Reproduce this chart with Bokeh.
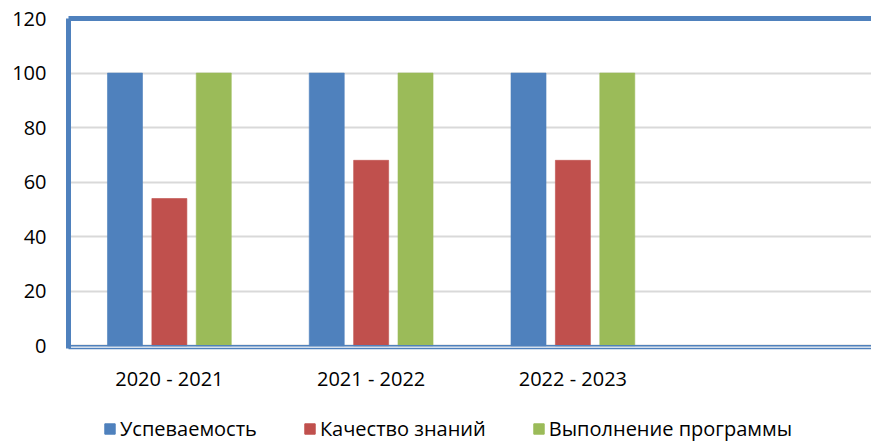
from bokeh.plotting import figure
from bokeh.layouts import column
from bokeh.models import (Range1d, FixedTicker, LinearAxis, Span, Legend,
                          LegendItem, ColumnDataSource)
from bokeh.embed import file_html
from bokeh.resources import INLINE

years = ["2020 - 2021", "2021 - 2022", "2022 - 2023"]
uspevaemost = [100, 100, 100]
kachestvo = [54, 68, 68]
vypolnenie = [100, 100, 100]
series_names = ["Успеваемость", "Качество знаний", "Выполнение программы"]
colors = ["#4f81bd", "#c0504d", "#9bbb59"]
y_ticks = [0, 20, 40, 60, 80, 100, 120]

FONT = "Open Sans"
BLUE = "#4f81bd"

centers = [i + 0.5 for i in range(len(years))]

p = figure(frame_width=803, frame_height=330, output_backend="svg", toolbar_location=None,
           x_range=Range1d(0, 3.98), y_range=Range1d(-1, 120),
           min_border_left=68, min_border_right=0, min_border_top=18,
           min_border_bottom=0)
p.outline_line_color = None
p.background_fill_color = "white"

offsets = [-0.22, 0.0, 0.22]
bar_w = 0.1735
sources = []
for vals, off, col in zip([uspevaemost, kachestvo, vypolnenie], offsets, colors):
    src = ColumnDataSource(dict(x=[c + off for c in centers], top=vals))
    sources.append(src)
    p.vbar(x="x", top="top", bottom=0, width=bar_w, source=src,
           fill_color=col, line_color=col, line_alpha=0.6)

# grid
p.xgrid.visible = False
p.ygrid.ticker = FixedTicker(ticks=y_ticks)
p.ygrid.grid_line_color = "#d9d9d9"
p.ygrid.grid_line_width = 2

# y axis
p.yaxis.ticker = FixedTicker(ticks=y_ticks)
p.yaxis.axis_line_color = BLUE
p.yaxis.axis_line_width = 5
p.yaxis.major_tick_line_color = None
p.yaxis.minor_tick_line_color = None
p.yaxis.major_label_standoff = 16
p.yaxis.major_label_text_font = FONT
p.yaxis.major_label_text_font_size = "20px"
p.yaxis.major_label_text_color = "black"

# x axis
p.xaxis.ticker = FixedTicker(ticks=centers)
p.xaxis.major_label_overrides = {c: y for c, y in zip(centers, years)}
p.xaxis.axis_line_color = BLUE
p.xaxis.axis_line_width = 1.5
p.xaxis.major_tick_line_color = None
p.xaxis.minor_tick_line_color = None
p.xaxis.major_tick_out = 0
p.xaxis.major_label_standoff = 16
p.xaxis.major_label_text_font = FONT
p.xaxis.major_label_text_font_size = "20px"
p.xaxis.major_label_text_color = "black"

# zero line (double bottom line)
p.add_layout(Span(location=0, dimension="width", line_color=BLUE, line_width=1.5))

# top wall edge
top_axis = LinearAxis(ticker=FixedTicker(ticks=[1.0]), axis_line_color=BLUE,
                      axis_line_width=5, major_tick_line_color=None,
                      minor_tick_line_color=None, major_label_text_font_size="1px",
                      major_label_text_alpha=0, major_label_standoff=0)
p.add_layout(top_axis, "above")

# legend in its own strip below the chart (same data, ranges kept out of view)
leg = figure(width=871, height=48, output_backend="svg", toolbar_location=None,
             x_range=Range1d(100, 101), y_range=Range1d(500, 501), min_border=0,
             x_axis_location=None, y_axis_location=None)
leg.grid.visible = False
leg.outline_line_color = None
leg_renderers = []
for src, col in zip(sources, colors):
    r = leg.vbar(x="x", top="top", bottom=0, width=bar_w, source=src,
                 fill_color=col, line_color=col)
    leg_renderers.append(r)

legend = Legend(items=[LegendItem(label=n, renderers=[r]) for n, r in zip(series_names, leg_renderers)],
                orientation="horizontal", location=(35, 0),
                glyph_width=13, glyph_height=13, label_standoff=4, spacing=46,
                border_line_color=None, background_fill_alpha=0,
                label_text_font=FONT, label_text_font_size="20px",
                label_text_color="black", margin=0, padding=0)
leg.add_layout(legend)

layout = column(p, leg, spacing=0)
open("out.html", "w").write(file_html(layout, INLINE))
